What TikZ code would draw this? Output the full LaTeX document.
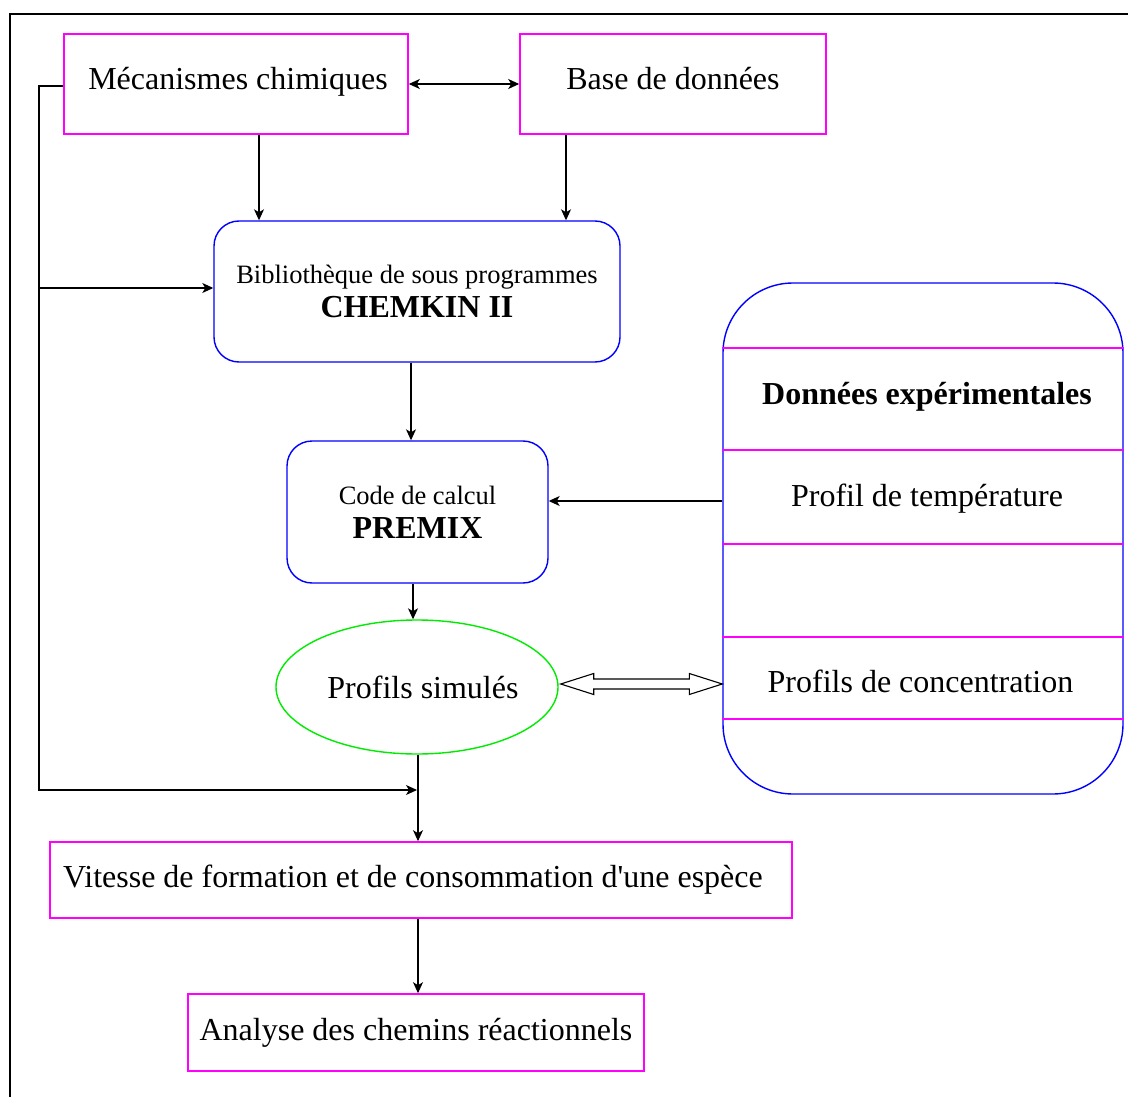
\documentclass[tikz,border=0pt]{standalone}
\usepackage{fontspec}
\setmainfont{Liberation Serif}
\usetikzlibrary{arrows.meta,shapes.geometric,calc}
\definecolor{mag}{RGB}{255,0,255}
\definecolor{blu}{RGB}{0,0,255}
\definecolor{grn}{RGB}{0,235,0}
\tikzset{
  big/.style={font=\fontsize{32}{38}\selectfont},
  magbox/.style={draw=mag,line width=1.6pt,rectangle,inner sep=0pt,big},
  blubox/.style={draw=blu,line width=1.4pt,rectangle,rounded corners=25pt,inner sep=0pt,align=center,font=\fontsize{32}{34}\selectfont},
  arr/.style={line width=1.1pt,-{Stealth[length=11pt,width=10pt,inset=3pt]}},
  darr/.style={line width=1.1pt,{Stealth[length=11pt,width=10pt,inset=3pt]}-{Stealth[length=11pt,width=10pt,inset=3pt]}},
  txt/.style={inner sep=0pt,big}
}
\begin{document}
\begin{tikzpicture}[x=1pt,y=-1pt]
\useasboundingbox (0,0) rectangle (1128,1097);
% outer frame
\draw[line width=1.6pt] (10,1097) -- (10,14) -- (1128,14);
% nodes
\node[magbox,minimum width=344pt,minimum height=100pt] (mec) at (236,84) {\raisebox{12pt}{\hspace*{4pt}Mécanismes chimiques}};
\node[magbox,minimum width=306pt,minimum height=100pt] (base) at (673,84) {\raisebox{12pt}{Base de données}};
\node[blubox,minimum width=406pt,minimum height=141pt] (chem) at (417,291.5)
  {{\fontsize{26.5}{34}\selectfont Bibliothèque de sous programmes}\\{\bfseries CHEMKIN II}};
\node[blubox,minimum width=261pt,minimum height=142pt] (prem) at (417.5,512)
  {{\fontsize{26.5}{34}\selectfont Code de calcul}\\{\bfseries PREMIX}};
\node[draw=grn,line width=1.4pt,ellipse,minimum width=282pt,minimum height=134pt,inner sep=0pt,big] (ell) at (417,687) {\makebox[150pt][c]{\hspace*{12pt}Profils simulés}};
\node[magbox,minimum width=742pt,minimum height=76pt] (vit) at (421,880) {Vitesse de formation et de consommation d\textquotesingle une espèce\hspace*{16pt}};
\node[magbox,minimum width=456pt,minimum height=77pt] (ana) at (416,1032.5) {Analyse des chemins réactionnels};
\node[draw=blu,line width=1.4pt,rectangle,rounded corners=70pt,minimum width=400pt,minimum height=511pt] (data) at (923,538.5) {};
\foreach \yy in {348,450,544,637,719}
  \draw[mag,line width=1.3pt] (data.west |- 0,\yy) -- (data.east |- 0,\yy);
\node[txt,font=\fontsize{32}{38}\selectfont\bfseries] (dexp) at (927,397) {Données expérimentales};
\node[txt] (dtemp) at (927,499) {Profil de température};
\node[txt] (dconc) at (920.5,681) {Profils de concentration};
% connectors
\draw[darr] (mec.east) -- (base.west);
\draw[arr] ([xshift=23pt]mec.south) -- ([xshift=23pt]mec.south |- chem.north);
\draw[arr] ([xshift=-107pt]base.south) -- ([xshift=-107pt]base.south |- chem.north);
\draw[arr] ([xshift=-6pt]chem.south) -- ([xshift=-6pt]chem.south |- prem.north);
\draw[arr] ([xshift=-4.5pt]prem.south) -- ([xshift=-4.5pt]prem.south |- ell.north);
\coordinate (tp) at ([yshift=11pt]prem.east);
\draw[arr] (tp -| data.west) -- (tp);
\draw[arr] ([xshift=1pt]ell.south) -- ([xshift=1pt]ell.south |- vit.north);
\draw[arr] ([xshift=-3pt]vit.south) -- ([xshift=-3pt]vit.south |- ana.north);
\coordinate (join) at ([xshift=0pt]ell.south |- 0,790);
\draw[arr] ([yshift=-2pt]mec.west) -- (39,86) -- (39,790) -- (join);
\coordinate (cw) at ([yshift=3.5pt]chem.west);
\draw[arr] (cw -| 39,0) -- (cw);
% hollow double arrow
\coordinate (da) at ([xshift=2pt,yshift=3pt]ell.east);
\coordinate (db) at (da -| data.west);
\draw[line width=1.1pt,fill=white] (da) -- ++(33,-10.5) -- ++(0,5.5) -- ($(db)+(-33,-5)$) -- ++(0,-5.5) -- (db)
  -- ++(-33,10.5) -- ++(0,-5.5) -- ($(da)+(33,5)$) -- ++(0,5.5) -- cycle;
\end{tikzpicture}
\end{document}
